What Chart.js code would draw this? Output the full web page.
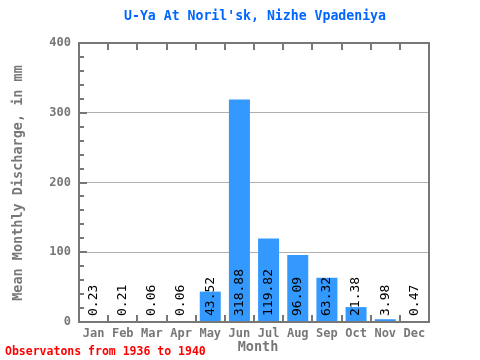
<!DOCTYPE html>
<html>
<head>
<meta charset="utf-8">
<script src="https://cdn.jsdelivr.net/npm/chart.js@4"></script>
<style>
  html, body { margin: 0; padding: 0; background: #fff; }
  #wrap { width: 480px; height: 360px; }
</style>
</head>
<body>
<div id="wrap"><canvas id="chart" width="480" height="360"></canvas></div>
<script>
// chart data
const months = ['Jan', 'Feb', 'Mar', 'Apr', 'May', 'Jun', 'Jul', 'Aug', 'Sep', 'Oct', 'Nov', 'Dec'];
const discharge = [0.23, 0.21, 0.06, 0.06, 43.52, 318.88, 119.82, 96.09, 63.32, 21.38, 3.98, 0.47];
const yTicks = [0, 100, 200, 300, 400];

const titleText = "U-Ya At Noril'sk, Nizhe Vpadeniya";
const yTitle = 'Mean Monthly Discharge, in mm';
const xTitle = 'Month';
const noteText = 'Observatons from 1936 to 1940';

const mono = '"DejaVu Sans Mono", "Liberation Mono", monospace';
const axisGray = '#777777';

// draws the frame, tick marks, value labels and the loose texts
const decorPlugin = {
  id: 'decor',
  afterDatasetsDraw(chart) {
    const ctx = chart.ctx;
    const area = chart.chartArea;
    const y = chart.scales.y;
    ctx.save();

    // values written up inside the bars
    ctx.font = '13px ' + mono;
    ctx.fillStyle = '#000';
    ctx.textAlign = 'left';
    ctx.textBaseline = 'middle';
    const meta = chart.getDatasetMeta(0);
    meta.data.forEach((bar, i) => {
      ctx.save();
      ctx.translate(bar.x, y.getPixelForValue(0) - 6);
      ctx.rotate(-Math.PI / 2);
      ctx.fillText(discharge[i].toFixed(2), 0, 0);
      ctx.restore();
    });

    // frame
    ctx.strokeStyle = axisGray;
    ctx.lineWidth = 2;
    ctx.strokeRect(area.left, area.top, area.right - area.left, area.bottom - area.top);

    // left minor / major ticks
    for (let v = 0; v <= 400; v += 20) {
      const py = Math.round(y.getPixelForValue(v));
      const len = v % 100 === 0 ? 8 : 5;
      ctx.beginPath();
      ctx.moveTo(area.left, py);
      ctx.lineTo(area.left + len, py);
      ctx.stroke();
    }

    // category boundary ticks on top and bottom
    const step = (area.right - area.left) / months.length;
    for (let k = 1; k < months.length; k++) {
      const px = Math.round(area.left + step * k);
      ctx.beginPath();
      ctx.moveTo(px, area.bottom);
      ctx.lineTo(px, area.bottom - 7);
      ctx.moveTo(px, area.top);
      ctx.lineTo(px, area.top + 7);
      ctx.stroke();
    }

    // chart title
    ctx.fillStyle = '#0066ff';
    ctx.font = 'bold 13.2px ' + mono;
    ctx.textAlign = 'center';
    ctx.textBaseline = 'middle';
    ctx.fillText(titleText, 255, 17);

    // axis titles
    ctx.fillStyle = axisGray;
    ctx.font = 'bold 13.5px ' + mono;
    ctx.fillText(xTitle, 258, 347);
    ctx.save();
    ctx.translate(18, 183);
    ctx.rotate(-Math.PI / 2);
    ctx.fillText(yTitle, 0, 0);
    ctx.restore();

    // note at bottom left
    ctx.fillStyle = '#ff0000';
    ctx.font = 'bold 11.5px ' + mono;
    ctx.textAlign = 'left';
    ctx.fillText(noteText, 5, 352);

    ctx.restore();
  }
};

new Chart(document.getElementById('chart').getContext('2d'), {
  type: 'bar',
  data: {
    labels: months,
    datasets: [{
      data: discharge,
      backgroundColor: '#3399ff',
      borderWidth: 0,
      barPercentage: 0.72,
      categoryPercentage: 1.0
    }]
  },
  options: {
    responsive: false,
    animation: false,
    devicePixelRatio: 1,
    layout: { padding: { top: 43, right: 51, left: 0, bottom: 0 } },
    plugins: {
      legend: { display: false },
      title: { display: false },
      tooltip: { enabled: false }
    },
    scales: {
      x: {
        grid: { display: false, drawTicks: false },
        border: { display: false },
        ticks: {
          color: axisGray,
          font: { family: mono, size: 12, weight: 'bold' },
          padding: 5,
          maxRotation: 0
        },
        afterFit(scale) { scale.height = 38; }
      },
      y: {
        min: 0,
        max: 400,
        afterBuildTicks(scale) { scale.ticks = yTicks.map(v => ({ value: v })); },
        grid: {
          color: ctx => (ctx.tick && (ctx.tick.value === 0 || ctx.tick.value === 400)) ? 'rgba(0,0,0,0)' : '#b0b0b0',
          drawTicks: false
        },
        border: { display: false },
        ticks: {
          color: axisGray,
          font: { family: mono, size: 12, weight: 'bold' },
          padding: 8
        },
        afterFit(scale) { scale.width = 79; }
      }
    }
  },
  plugins: [decorPlugin]
});
</script>
</body>
</html>
